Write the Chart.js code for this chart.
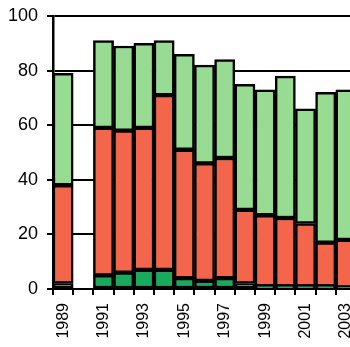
<!DOCTYPE html>
<html>
<head>
<meta charset="utf-8">
<script src="https://cdn.jsdelivr.net/npm/chart.js@4/dist/chart.umd.min.js"></script>
<style>
  html, body { margin: 0; padding: 0; background: #fff; overflow: hidden; }
  #wrap { width: 356px; height: 347px; position: relative; }
</style>
</head>
<body>
<div id="wrap"><canvas id="chart"></canvas></div>
<script>
const years = ['1989','1990','1991','1992','1993','1994','1995','1996','1997','1998','1999','2000','2001','2002','2003'];
// stacked values (1990 has no bar)
const darkGreen  = [2, null, 5, 6, 7, 7, 4, 3, 4, 2, 1, 1, 1, 1, 0.6];
const red        = [36, null, 54, 52, 52, 64, 47, 43, 44, 27, 26, 25, 23, 16, 17.4];
const lightGreen = [41, null, 32, 31, 31, 20, 35, 36, 36, 46, 46, 52, 42, 55, 55];
const yTicks = [0, 20, 40, 60, 80, 100];

function bars(label, data, color) {
  return {
    label: label,
    data: data,
    backgroundColor: color,
    borderColor: '#000',
    borderWidth: 2.5,
    borderSkipped: false,
    barPercentage: 1,
    categoryPercentage: 1
  };
}

const ctx = document.getElementById('chart').getContext('2d');
new Chart(ctx, {
  type: 'bar',
  data: {
    labels: years,
    datasets: [
      bars('a', darkGreen, '#1aaa5e'),
      bars('b', red, '#f4664b'),
      bars('c', lightGreen, '#98dc94')
    ]
  },
  options: {
    responsive: true,
    maintainAspectRatio: false,
    animation: false,
    layout: { padding: { top: 16, left: 0, right: 0, bottom: 0 } },
    plugins: { legend: { display: false }, tooltip: { enabled: false } },
    scales: {
      x: {
        stacked: true,
        afterFit: function (s) {
          s.height = 58;
          s.paddingLeft = 0; s.paddingRight = 0;
        },
        grid: { drawOnChartArea: false, color: '#000', lineWidth: 2, tickLength: 6 },
        border: { color: '#000', width: 2 },
        ticks: {
          autoSkip: false,
          minRotation: 90,
          maxRotation: 90,
          padding: 8,
          color: '#000',
          font: { family: 'Liberation Sans', size: 16 },
          callback: function (v, i) { return (Number(years[i]) % 2 === 1) ? years[i] : ''; }
        }
      },
      y: {
        stacked: true,
        min: 0,
        max: 100,
        afterFit: function (s) {
          s.width = 53;
          s.paddingTop = 0; s.paddingBottom = 0;
        },
        afterBuildTicks: function (s) { s.ticks = yTicks.map(function (v) { return { value: v }; }); },
        grid: { color: '#000', lineWidth: 2, tickLength: 6 },
        border: { color: '#000', width: 2.5 },
        ticks: {
          padding: 9,
          color: '#000',
          font: { family: 'Liberation Sans', size: 18 }
        }
      }
    }
  }
});
</script>
</body>
</html>
